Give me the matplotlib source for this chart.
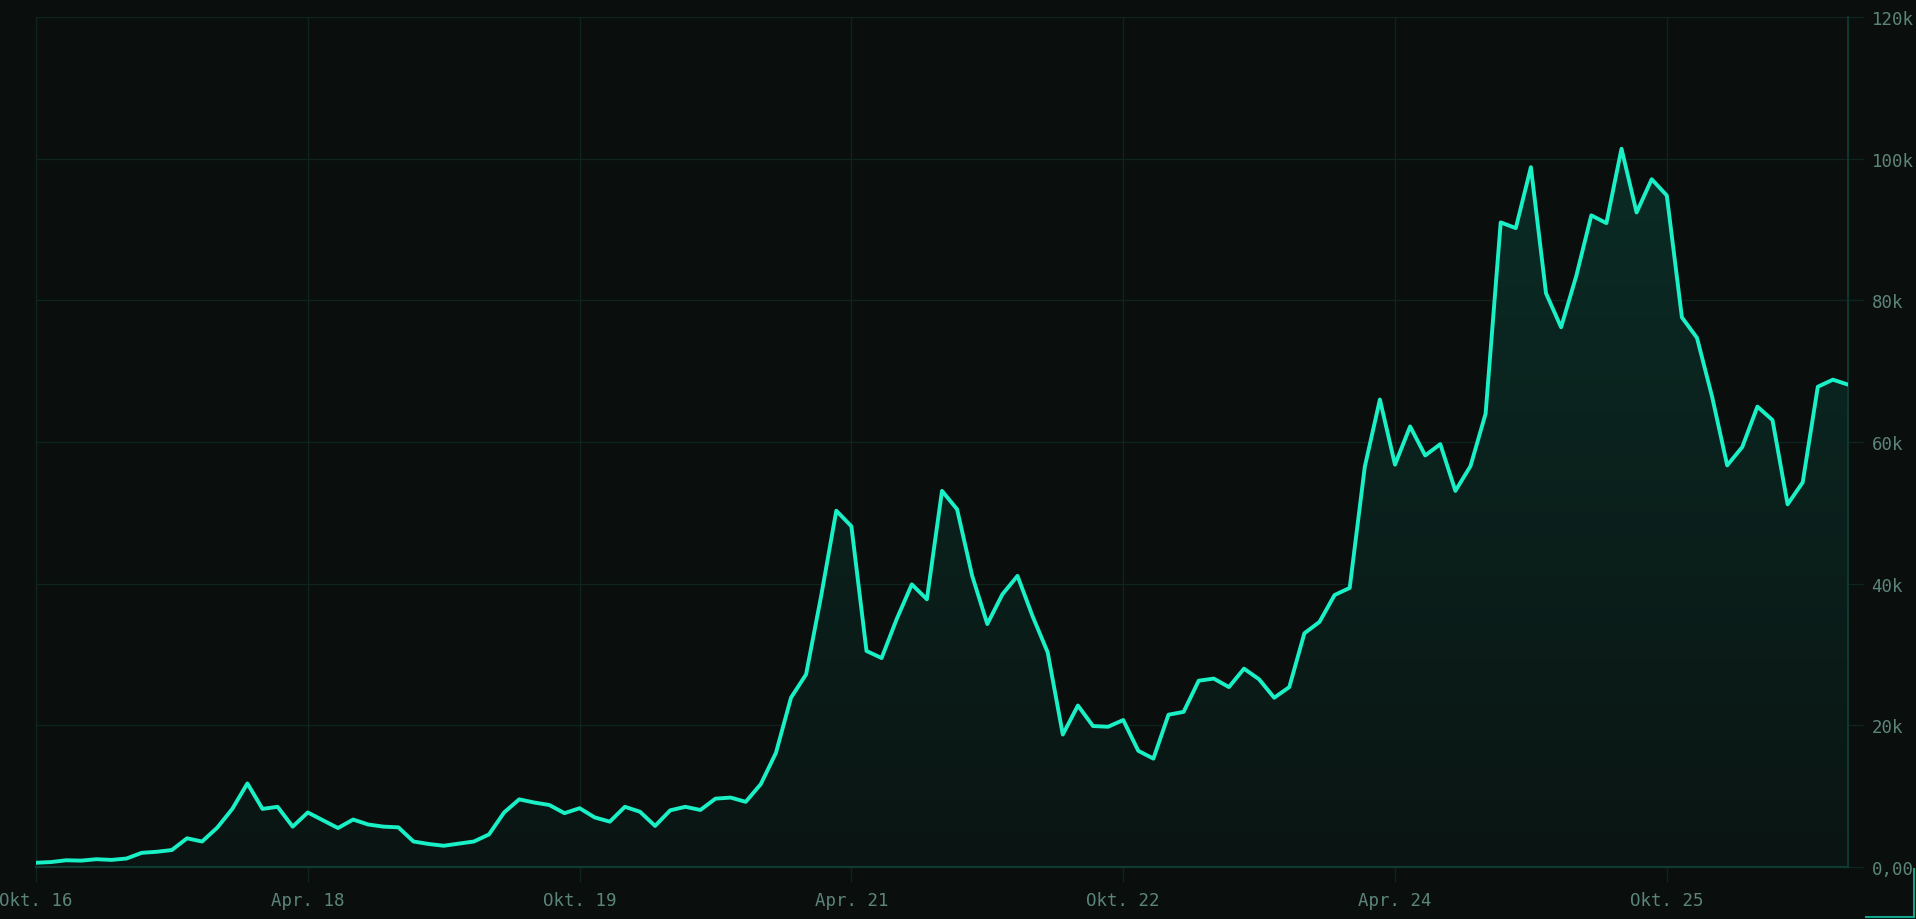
import numpy as np
import matplotlib
matplotlib.use("Agg")
import matplotlib.pyplot as plt
from matplotlib.ticker import FuncFormatter, FixedLocator
from matplotlib.lines import Line2D
from matplotlib.colors import LinearSegmentedColormap

# ---- data (monthly values, in thousands) ----
values_k = [
    0.6, 0.7, 0.95, 0.9, 1.1, 1.0, 1.2, 2.0, 2.15, 2.4,
    4.05, 3.6, 5.55, 8.2, 11.8, 8.2, 8.5, 5.7, 7.7, 6.6,
    5.5, 6.7, 6.0, 5.7, 5.6, 3.6, 3.25, 3.0, 3.3, 3.6,
    4.6, 7.7, 9.55, 9.1, 8.75, 7.6, 8.3, 7.0, 6.4, 8.5,
    7.8, 5.8, 8.0, 8.5, 8.05, 9.65, 9.8, 9.2, 11.7, 16.1,
    23.9, 27.2, 38.3, 50.3, 48.1, 30.5, 29.5, 35.0, 39.9, 37.8,
    53.1, 50.5, 41.1, 34.3, 38.5, 41.1, 35.4, 30.3, 18.7, 22.8,
    19.9, 19.8, 20.75, 16.4, 15.3, 21.5, 21.9, 26.3, 26.6, 25.4,
    28.0, 26.5, 23.9, 25.4, 33.0, 34.6, 38.4, 39.4, 56.5, 66.0,
    56.8, 62.2, 58.1, 59.7, 53.1, 56.6, 64.0, 91.0, 90.2, 98.8,
    81.0, 76.2, 83.4, 92.0, 90.9, 101.4, 92.4, 97.1, 94.8, 77.6,
    74.7, 66.4, 56.7, 59.3, 65.0, 63.1, 51.2, 54.3, 67.8, 68.8,
    68.1,
]
months = list(range(len(values_k)))
xtick_pos = [0, 18, 36, 54, 72, 90, 108]
xtick_labels = ["Okt. 16", "Apr. 18", "Okt. 19", "Apr. 21", "Okt. 22", "Apr. 24", "Okt. 25"]
ytick_vals = [0, 20000, 40000, 60000, 80000, 100000, 120000]

# ---- style ----
BG = "#0a0e0d"
LINE = "#1af0c6"
GRID = "#0f241e"
BASE = "#0f3a31"
LABEL = "#5c857a"
FONT = "DejaVu Sans Mono"

x = np.array(months, dtype=float)
y = np.array(values_k) * 1000.0

fig = plt.figure(figsize=(19.16, 9.2), dpi=100, facecolor=BG)
ax = fig.add_axes([36 / 1916, 1 - 868 / 920, (1848 - 36) / 1916, (868 - 18) / 920])
ax.set_facecolor(BG)

ax.set_xlim(0, 120)
ax.set_ylim(0, 120000)

# gradient fill under the line
poly = ax.fill_between(x, y, 0, facecolor="none", edgecolor="none")
grad = np.linspace(0, 1, 256).reshape(-1, 1)
cmap = LinearSegmentedColormap.from_list("g", ["#0a1513", "#0b2c25"])
img = ax.imshow(grad, cmap=cmap, aspect="auto", origin="lower",
                extent=[0, 120, 0, 105000], zorder=1)
path = poly.get_paths()[0]
img.set_clip_path(path, transform=ax.transData)

ax.plot(x, y, color=LINE, lw=2.8, solid_joinstyle="round", solid_capstyle="round", zorder=3)

# grid
ax.grid(True, color=GRID, lw=1.0, zorder=0)
ax.set_axisbelow(True)

# ticks
ax.xaxis.set_major_locator(FixedLocator(xtick_pos))
ax.set_xticklabels(xtick_labels)
ax.yaxis.set_major_locator(FixedLocator(ytick_vals))
ax.yaxis.set_major_formatter(FuncFormatter(lambda v, p: "0,00" if v == 0 else f"{int(round(v / 1000))}k"))
ax.yaxis.tick_right()
ax.tick_params(axis="x", colors=GRID, length=11, width=1.0, pad=6, labelcolor=LABEL, labelsize=12.5)
ax.tick_params(axis="y", colors=GRID, length=11, width=1.0, pad=6, labelcolor=LABEL, labelsize=12.5)
for lab in ax.get_xticklabels() + ax.get_yticklabels():
    lab.set_fontfamily(FONT)

ax.spines["top"].set_visible(False)
ax.spines["bottom"].set_color(BASE)
ax.spines["bottom"].set_linewidth(1.6)
ax.spines["right"].set_color("#0e3a30")
ax.spines["right"].set_linewidth(1.4)
ax.spines["left"].set_color(GRID)
ax.spines["left"].set_linewidth(1.0)

# small corner bracket decoration bottom-right
fig.add_artist(Line2D([1866 / 1916, 1914 / 1916], [2.5 / 920, 2.5 / 920],
                      transform=fig.transFigure, color="#14a58a", lw=1.5))
fig.add_artist(Line2D([1914 / 1916, 1914 / 1916], [2.5 / 920, 50 / 920],
                      transform=fig.transFigure, color="#14a58a", lw=1.5))

fig.savefig("out.png", dpi=100, facecolor=BG)
